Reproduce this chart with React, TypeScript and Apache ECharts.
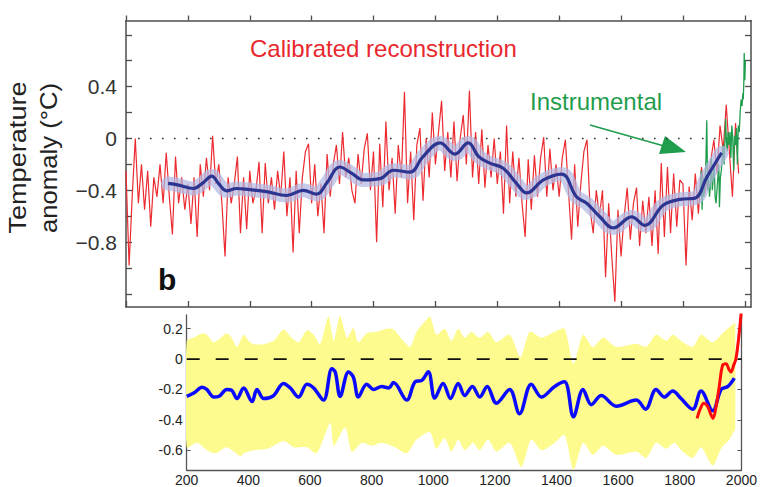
import React, { useEffect, useRef } from 'react';
import * as echarts from 'echarts';

// ---------- Top panel (b): calibrated reconstruction ----------
const redStep = 10; // years between samples, starting at AD 0
const redValues = [
  -0.25, -0.98, -0.45, 0.0, -0.5, -0.2, -0.55, -0.25, -0.68, -0.3,
  -0.45, -0.2, -0.5, -0.11, -0.45, -0.74, -0.14, -0.5, -0.3, -0.55,
  -0.35, -0.66, -0.3, -0.76, -0.2, -0.45, -0.15, -0.4, 0.02, -0.35,
  -0.2, -0.5, -0.91, -0.3, -0.5, -0.35, -0.14, -0.73, -0.3, -0.7,
  -0.25, -0.5, -0.4, -0.18, -0.73, -0.19, -0.5, -0.3, -0.55, -0.25,
  -0.45, -0.1, -0.6, -0.3, -0.88, -0.25, -0.73, -0.3, -0.1, -0.04,
  -0.5, -0.2, -0.6, -0.35, -0.73, -0.12, -0.45, -0.2, -0.05, -0.35,
  0.05, -0.3, -0.15, -0.4, -0.5, -0.12, -0.35, -0.08, 0.04, -0.4,
  -0.1, -0.8, -0.04, -0.53, 0.13, -0.4, -0.15, -0.58, -0.05, -0.3,
  0.36, -0.5, -0.1, -0.63, -0.05, 0.08, -0.48, 0.0, -0.3, 0.2,
  -0.2, 0.05, 0.29, -0.25, 0.05, -0.3, 0.13, -0.33, 0.0, 0.18,
  -0.2, 0.37, -0.3, 0.05, -0.35, 0.07, -0.38, -0.05, -0.3, 0.0,
  -0.35, -0.1, -0.58, 0.1, -0.5, -0.1, -0.45, -0.15, -0.5, -0.76,
  -0.16, -0.55, -0.13, -0.45, -0.15, 0.01, -0.45, -0.08, -0.4, -0.2,
  -0.45, -0.15, -0.01, -0.4, -0.78, -0.2, -0.68, -0.35, -0.1, -0.01,
  -0.55, -0.73, -0.4, -0.6, -0.4, -1.07, -0.5, -0.91, -1.26, -0.55,
  -0.91, -0.6, -0.38, -0.78, -0.5, -0.38, -0.83, -0.48, -0.73, -0.45,
  -0.83, -0.4, -0.89, -0.19, -0.76, -0.22, -0.73, -0.27, -0.68, -0.32,
  -0.35, -0.98, -0.37, -0.63, -0.27, -0.58, -0.22, -0.43, -0.3, -0.17,
  -0.01, -0.27, 0.1, -0.09, 0.26, -0.1, -0.45, 0.12, -0.27,
];
const redYears = redValues.map((_, i) => i * redStep);

const greenYears = [
  1856, 1859, 1862, 1865, 1868, 1871, 1874, 1877, 1880, 1883, 1886, 1889,
  1892, 1895, 1898, 1901, 1904, 1907, 1910, 1913, 1916, 1918, 1921, 1924,
  1927, 1930, 1933, 1938, 1940, 1943, 1946, 1949, 1952, 1955, 1958, 1961,
  1964, 1967, 1970, 1973, 1976, 1979, 1982, 1985, 1988, 1991, 1994, 1995,
  1997, 1998, 2000, 2002,
];
const greenValues = [
  -0.45, -0.25, -0.55, -0.3, -0.45, -0.35, -0.2, 0.14, -0.4, -0.3, -0.45, -0.35,
  -0.15, -0.4, -0.3, -0.2, -0.45, -0.5, -0.4, -0.3, -0.2, -0.53, -0.3, -0.25,
  -0.15, -0.05, -0.2, 0.15, 0.0, -0.1, 0.05, -0.05, 0.05, -0.15, 0.1, 0.0,
  -0.25, 0.02, -0.05, 0.08, -0.2, 0.1, 0.05, 0.2, 0.3, 0.25, 0.35, 0.3,
  0.45, 0.66, 0.45, 0.6,
];

const blueYears = [
  136, 170, 217, 250, 277, 300, 325, 357, 400, 454, 519, 573, 616, 650, 691,
  730, 767, 821, 864, 918, 960, 1015, 1063, 1106, 1140, 1176, 1219, 1260, 1295,
  1349, 1408, 1456, 1489, 1530, 1575, 1634, 1677, 1736, 1790, 1839, 1877, 1925,
];
const blueValues = [
  -0.347, -0.36, -0.386, -0.34, -0.29, -0.35, -0.404, -0.386, -0.395, -0.41,
  -0.44, -0.4, -0.43, -0.34, -0.22, -0.27, -0.32, -0.31, -0.245, -0.26, -0.14,
  -0.034, -0.12, -0.034, -0.14, -0.19, -0.23, -0.34, -0.42, -0.32, -0.275,
  -0.45, -0.5, -0.6, -0.69, -0.605, -0.67, -0.515, -0.47, -0.46, -0.3, -0.11,
];

const topXTicks = [0, 200, 400, 600, 800, 1000, 1200, 1400, 1600, 1800, 2000];
const topYTicks = [-1.2, -1.0, -0.8, -0.6, -0.4, -0.2, 0, 0.2, 0.4, 0.6, 0.8];
const topYLabels = [-0.8, -0.4, 0, 0.4];

// ---------- Bottom panel ----------
const bottomBlueYears = [
  200, 223, 250, 265, 288, 305, 330, 346, 363, 385, 412, 428, 450, 482, 514,
  536, 563, 590, 612, 644, 671, 682, 698, 725, 741, 757, 784, 806, 833, 855,
  871, 914, 941, 963, 984, 1005, 1032, 1056, 1081, 1102, 1127, 1151, 1175,
  1205, 1248, 1280, 1318, 1351, 1394, 1426, 1455, 1486, 1513, 1545, 1594,
  1659, 1689, 1723, 1750, 1777, 1804, 1842, 1869, 1907, 1934, 1956, 1977,
];
const bottomBlueValues = [
  -0.246, -0.224, -0.186, -0.2, -0.25, -0.245, -0.2, -0.205, -0.26, -0.19,
  -0.28, -0.2, -0.26, -0.24, -0.16, -0.19, -0.25, -0.165, -0.19, -0.27,
  -0.064, -0.085, -0.246, -0.085, -0.12, -0.25, -0.165, -0.2, -0.18, -0.19,
  -0.155, -0.27, -0.15, -0.14, -0.084, -0.257, -0.16, -0.26, -0.16, -0.24,
  -0.18, -0.25, -0.18, -0.29, -0.2, -0.36, -0.165, -0.25, -0.18, -0.15,
  -0.38, -0.2, -0.3, -0.24, -0.31, -0.27, -0.33, -0.2, -0.25, -0.21, -0.26,
  -0.33, -0.21, -0.34, -0.2, -0.18, -0.125,
];
const bottomRedYears = [
  1856, 1866, 1878, 1890, 1900, 1908, 1918, 1928, 1939, 1950, 1960, 1966,
  1975, 1982, 1990, 2000,
];
const bottomRedValues = [
  -0.39, -0.33, -0.29, -0.31, -0.36, -0.39, -0.31, -0.18, -0.04, -0.03, -0.07,
  -0.085, -0.04, 0.0, 0.12, 0.32,
];
const bandUpperYears = [
  200, 223, 250, 265, 288, 310, 330, 346, 363, 385, 401, 417, 450, 482, 514,
  541, 563, 590, 612, 633, 660, 677, 698, 720, 741, 757, 784, 817, 849, 871,
  903, 925, 946, 973, 990, 1010, 1037, 1059, 1081, 1102, 1124, 1151, 1178,
  1205, 1248, 1283, 1313, 1351, 1394, 1426, 1455, 1486, 1518, 1551, 1594,
  1659, 1691, 1723, 1756, 1777, 1810, 1842, 1869, 1907, 1939, 1977, 1980,
];
const bandUpperValues = [
  0.12, 0.14, 0.17, 0.16, 0.11, 0.14, 0.17, 0.14, 0.08, 0.16, 0.12, 0.098,
  0.098, 0.12, 0.195, 0.14, 0.11, 0.19, 0.16, 0.098, 0.28, 0.12, 0.285, 0.14,
  0.205, 0.11, 0.17, 0.18, 0.2, 0.195, 0.12, 0.08, 0.18, 0.247, 0.28, 0.16,
  0.2, 0.12, 0.2, 0.14, 0.18, 0.14, 0.18, 0.11, 0.16, 0.012, 0.18, 0.14,
  0.18, 0.2, -0.03, 0.16, 0.08, 0.14, 0.08, 0.1, 0.08, 0.16, 0.12, 0.16,
  0.11, 0.08, 0.16, 0.11, 0.17, 0.237, 0.24,
];
const bandLowerYears = [
  200, 234, 266, 293, 330, 375, 385, 417, 461, 514, 547, 590, 622, 666, 677,
  714, 736, 768, 800, 833, 876, 914, 946, 989, 1010, 1037, 1059, 1081, 1102,
  1129, 1151, 1178, 1205, 1248, 1286, 1318, 1351, 1394, 1426, 1455, 1486,
  1518, 1551, 1594, 1659, 1691, 1723, 1756, 1782, 1810, 1842, 1869, 1907,
  1934, 1961, 1977, 1980,
];
const bandLowerValues = [
  -0.58, -0.55, -0.6, -0.62, -0.58, -0.64, -0.62, -0.6, -0.59, -0.54, -0.58,
  -0.58, -0.62, -0.42, -0.57, -0.45, -0.61, -0.55, -0.57, -0.55, -0.58, -0.62,
  -0.53, -0.48, -0.59, -0.52, -0.61, -0.53, -0.6, -0.55, -0.6, -0.53, -0.61,
  -0.55, -0.71, -0.53, -0.6, -0.55, -0.5, -0.73, -0.55, -0.63, -0.57, -0.63,
  -0.61, -0.65, -0.55, -0.59, -0.55, -0.61, -0.65, -0.58, -0.7, -0.59, -0.53,
  -0.47, -0.47,
];
const bottomXTicks = [200, 400, 600, 800, 1000, 1200, 1400, 1600, 1800, 2000];
const bottomYTicks = [-0.6, -0.4, -0.2, 0, 0.2];

const FONT = '"Liberation Sans", Arial, Helvetica, sans-serif';
const pair = (xs: number[], ys: number[]) => xs.map((x, i) => [x, ys[i]]);
const fmtTop = (v: number) =>
  Math.abs(v) < 1e-9 ? '0' : (v < 0 ? '\u2212' : '') + Math.abs(v).toFixed(1);
const fmtBottom = (v: number) => (Math.abs(v) < 1e-9 ? '0' : v.toFixed(1));
const fmtYear = (v: number) => String(Math.round(v));

const frame = { color: '#4d4d4d', width: 1.5 };

function buildOption() {
  return {
    animation: false,
    backgroundColor: '#ffffff',
    grid: [
      { left: 126, top: 20.5, width: 625, height: 286.5 },
      { left: 186.7, top: 315, width: 555.3, height: 156 },
    ],
    xAxis: [
      {
        gridIndex: 0, type: 'value', min: 0, max: 2020, position: 'bottom',
        axisLine: { show: true, onZero: false, lineStyle: frame },
        axisTick: { show: true, inside: true, length: 6, customValues: topXTicks, lineStyle: { color: '#4d4d4d', width: 1.3 } },
        axisLabel: { show: false }, splitLine: { show: false },
      },
      {
        gridIndex: 0, type: 'value', min: 0, max: 2020, position: 'top',
        axisLine: { show: true, onZero: false, lineStyle: frame },
        axisTick: { show: true, inside: false, length: 5, customValues: topXTicks, lineStyle: { color: '#4d4d4d', width: 1.3 } },
        axisLabel: { show: false }, splitLine: { show: false },
      },
      {
        gridIndex: 1, type: 'value', min: 200, max: 2000, position: 'bottom',
        axisLine: { show: true, onZero: false, lineStyle: { color: '#555', width: 1.3 } },
        axisTick: { show: false },
        axisLabel: { show: true, customValues: bottomXTicks, formatter: fmtYear, fontSize: 14, fontFamily: FONT, color: '#222', margin: 3 },
        splitLine: { show: false },
      },
    ],
    yAxis: [
      {
        gridIndex: 0, type: 'value', min: -1.3, max: 0.91, position: 'left',
        axisLine: { show: true, onZero: false, lineStyle: frame },
        axisTick: { show: true, inside: true, length: 6, customValues: topYTicks, lineStyle: { color: '#4d4d4d', width: 1.3 } },
        axisLabel: { show: true, customValues: topYLabels, formatter: fmtTop, fontSize: 21, fontFamily: FONT, color: '#333', margin: 9 },
        splitLine: { show: false },
      },
      {
        gridIndex: 0, type: 'value', min: -1.3, max: 0.91, position: 'right',
        axisLine: { show: true, onZero: false, lineStyle: frame },
        axisTick: { show: true, inside: true, length: 6, customValues: topYTicks, lineStyle: { color: '#4d4d4d', width: 1.3 } },
        axisLabel: { show: false }, splitLine: { show: false },
      },
      {
        gridIndex: 1, type: 'value', min: -0.73, max: 0.29, position: 'left',
        axisLine: { show: true, onZero: false, lineStyle: { color: '#555', width: 1.3 } },
        axisTick: { show: true, inside: true, length: 4, customValues: bottomYTicks, lineStyle: { color: '#555' } },
        axisLabel: { show: true, customValues: bottomYTicks, formatter: fmtBottom, fontSize: 14, fontFamily: FONT, color: '#222', margin: 4 },
        splitLine: { show: false },
      },
      {
        gridIndex: 1, type: 'value', min: -0.73, max: 0.29, position: 'right',
        axisLine: { show: true, onZero: false, lineStyle: { color: '#555', width: 1.3 } },
        axisTick: { show: true, inside: true, length: 4, customValues: bottomYTicks, lineStyle: { color: '#555' } },
        axisLabel: { show: false }, splitLine: { show: false },
      },
    ],
    series: [
      {
        type: 'line', xAxisIndex: 0, yAxisIndex: 0, data: [[0, 0], [2020, 0]],
        symbol: 'none', silent: true, z: 1,
        lineStyle: { color: '#333', width: 1.6, type: [1.6, 10.4] },
      },
      {
        type: 'line', name: 'Calibrated reconstruction', xAxisIndex: 0, yAxisIndex: 0,
        data: pair(redYears, redValues), symbol: 'none', z: 2,
        lineStyle: { color: '#ec2b31', width: 1.2 },
      },
      {
        type: 'line', name: 'Instrumental', xAxisIndex: 0, yAxisIndex: 0,
        data: pair(greenYears, greenValues), symbol: 'none', z: 3,
        lineStyle: { color: '#1f9d4d', width: 1.3 },
      },
      {
        type: 'line', xAxisIndex: 0, yAxisIndex: 0, data: pair(blueYears, blueValues),
        symbol: 'none', smooth: 0.4, z: 4, silent: true,
        lineStyle: { color: 'rgba(178,184,226,0.72)', width: 14, cap: 'round' },
      },
      {
        type: 'line', xAxisIndex: 0, yAxisIndex: 0, data: pair(blueYears, blueValues),
        symbol: 'none', smooth: 0.4, z: 5,
        lineStyle: { color: '#2c3591', width: 3.2 },
      },
      {
        type: 'custom', xAxisIndex: 2, yAxisIndex: 2, data: [[200, 0]], clip: true, z: 1,
        renderItem: (params: any, api: any) => {
          if (params.dataIndex !== 0) return null;
          const pts: number[][] = [];
          bandUpperYears.forEach((x, i) => pts.push(api.coord([x, bandUpperValues[i]])));
          for (let i = bandLowerYears.length - 1; i >= 0; i--) {
            pts.push(api.coord([bandLowerYears[i], bandLowerValues[i]]));
          }
          return { type: 'polygon', shape: { points: pts, smooth: 0.25 }, style: { fill: '#fdfb8e', stroke: 'none' } };
        },
      },
      {
        type: 'line', xAxisIndex: 2, yAxisIndex: 2, data: [[200, 0], [2000, 0]],
        symbol: 'none', silent: true, z: 2,
        lineStyle: { color: '#111', width: 1.8, type: [13, 16] },
      },
      {
        type: 'line', xAxisIndex: 2, yAxisIndex: 2, data: pair(bottomBlueYears, bottomBlueValues),
        symbol: 'none', smooth: 0.35, z: 3,
        lineStyle: { color: '#0a0aff', width: 3.5 },
      },
      {
        type: 'line', xAxisIndex: 2, yAxisIndex: 2, data: pair(bottomRedYears, bottomRedValues),
        symbol: 'none', smooth: 0.35, z: 4,
        lineStyle: { color: '#ff0a0a', width: 3 },
      },
    ],
    graphic: [
      {
        type: 'text', x: 250, y: 48.5,
        style: { text: 'Calibrated reconstruction', font: `24px ${FONT}`, fill: '#e8282e', textAlign: 'left', textVerticalAlign: 'middle' },
      },
      {
        type: 'text', x: 530, y: 101,
        style: { text: 'Instrumental', font: `24px ${FONT}`, fill: '#1f9d4d', textAlign: 'left', textVerticalAlign: 'middle' },
      },
      {
        type: 'line', shape: { x1: 590, y1: 125, x2: 664, y2: 146 },
        style: { stroke: '#1f9d4d', lineWidth: 1.6 },
      },
      {
        type: 'polygon', shape: { points: [[659, 154], [665, 136], [686, 152]] },
        style: { fill: '#1f9d4d' },
      },
      {
        type: 'text', x: 158, y: 279,
        style: { text: 'b', font: `900 30px ${FONT}`, fill: '#111', textAlign: 'left', textVerticalAlign: 'middle' },
      },
      {
        type: 'text', x: 18, y: 157.5, rotation: Math.PI / 2, scaleX: 1.13,
        style: { text: 'Temperature', font: `24px ${FONT}`, fill: '#222', textAlign: 'center', textVerticalAlign: 'middle' },
      },
      {
        type: 'text', x: 48.7, y: 158, rotation: Math.PI / 2, scaleX: 1.07,
        style: { text: 'anomaly (\u00B0C)', font: `24px ${FONT}`, fill: '#222', textAlign: 'center', textVerticalAlign: 'middle' },
      },
    ],
  };
}

export default function App() {
  const ref = useRef<HTMLDivElement>(null);
  useEffect(() => {
    document.body.style.margin = '0';
    if (!ref.current) return;
    const chart = echarts.init(ref.current, null, { renderer: 'svg' });
    chart.setOption(buildOption() as any);
    return () => chart.dispose();
  }, []);
  return <div ref={ref} style={{ width: 760, height: 487 }} />;
}
